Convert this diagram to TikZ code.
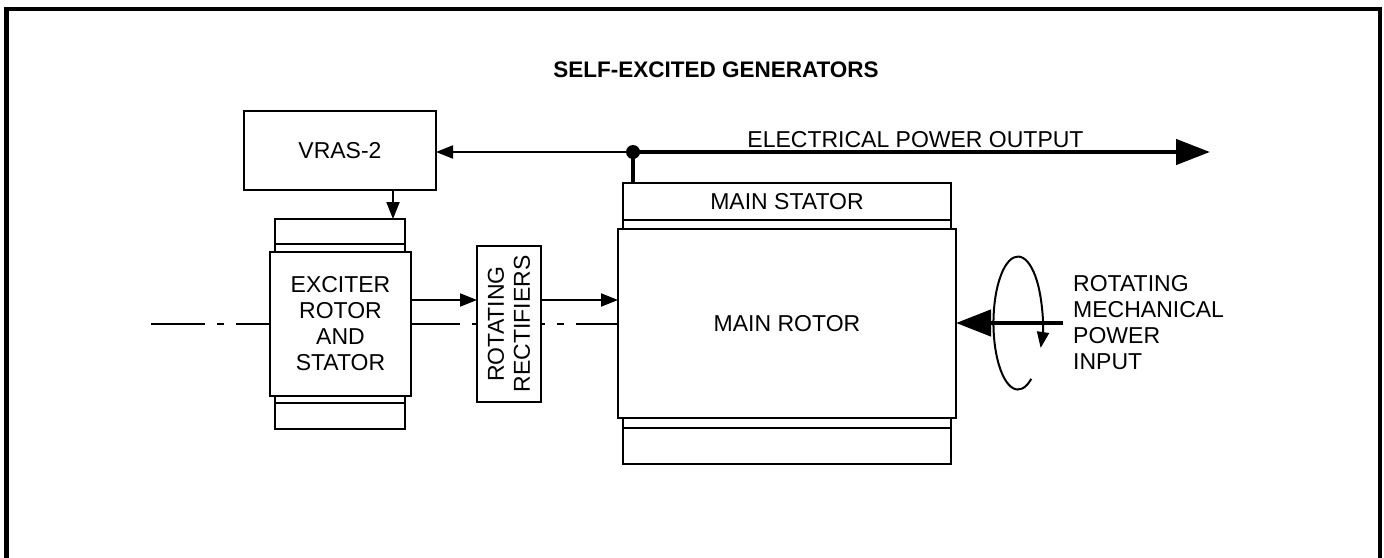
\documentclass[tikz,border=0pt]{standalone}
\usepackage{fontspec}
\setmainfont{Liberation Sans}
\usetikzlibrary{arrows.meta}
\begin{document}
\begin{tikzpicture}[x=1pt,y=-1pt, line join=miter,
  box/.style={draw, line width=2.4pt, fill=white, inner sep=0pt, outer sep=0pt,
    font=\fontsize{23}{26}\selectfont, align=center},
  conn/.style={line width=2pt},
  sarr/.style={conn, -{Triangle[length=17pt,width=13pt]}},
  power/.style={line width=4.5pt},
  lbl/.style={font=\fontsize{23}{26}\selectfont, inner sep=0pt}]
\useasboundingbox (0,0) rectangle (1384,557);
\fill[white] (0,0) rectangle (1384,557);
% frame
\draw[line width=4.5pt] (6.5,562) -- (6.5,9) -- (1380,9) -- (1380,562);
% title
\node[font=\bfseries\fontsize{22.5}{26}\selectfont, inner sep=0pt] (title) at (716,70) {SELF-EXCITED GENERATORS};
% shaft
\coordinate (shaftL) at (151,324);
\coordinate (shaftR) at (618,324);
\draw[conn, dash pattern=on 54pt off 12pt on 7pt off 12pt] (shaftL) -- (shaftR);
% VRAS
\node[box, minimum width=192pt, minimum height=79pt] (vras) at (340,150.5) {VRAS-2};
% exciter
\node[box, minimum width=130pt, minimum height=33pt] (exctopband) at (340,235.5) {};
\node[box, minimum width=130pt, minimum height=25pt] (exctop) at (340,231.5) {};
\node[box, minimum width=130pt, minimum height=33pt] (excbotband) at (340,412.5) {};
\node[box, minimum width=130pt, minimum height=26pt] (excbot) at (340,416) {};
\node[box, minimum width=141pt, minimum height=144pt] (exc) at (340.5,324) {EXCITER\\ROTOR\\AND\\STATOR};
% rectifiers
\node[box, minimum width=64pt, minimum height=156pt] (rect) at (509,324) {};
\node[lbl, rotate=90, align=center] (recttext) at (rect.center) {ROTATING\\RECTIFIERS};
% main machine
\node[box, minimum width=328pt, minimum height=46pt] (statorband) at (787,206) {};
\node[box, minimum width=328pt, minimum height=37pt] (stator) at (787,201.5) {MAIN STATOR};
\node[box, minimum width=328pt, minimum height=46pt] (rotbotband) at (787,441) {};
\node[box, minimum width=328pt, minimum height=36pt] (rotbot) at (787,446) {};
\node[box, minimum width=338pt, minimum height=189pt] (rotor) at (787,323.5) {MAIN ROTOR};
% connectors
\coordinate (j) at (633,152);
\coordinate (out) at (1210,152);
\coordinate (a) at (0,300);
\draw[sarr] (j) -- (vras.east |- j);
\draw[sarr] ([xshift=53pt]vras.south) -- ([xshift=53pt]exctop.north);
\draw[sarr] (exc.east |- a) -- (rect.west |- a);
\draw[sarr] (rect.east |- a) -- (rotor.west |- a);
\draw[power] (j) -- (j |- stator.north);
\draw[power, -{Triangle[length=34pt,width=25pt]}] (j) -- (out);
\fill (j) circle (7pt);
\node[lbl, anchor=base] (outlbl) at (915.5,147.3) {ELECTRICAL POWER OUTPUT};
% mechanical input
\coordinate (inp) at (1063,323);
\draw[power, -{Triangle[length=35pt,width=26pt]}] (inp) -- (rotor.east |- inp);
\draw[conn, -{Triangle[length=16pt,width=12pt]}] (1031.3,378.8) arc[start angle=57, end angle=382, x radius=24.5, y radius=66.5];
\node[lbl, anchor=west, align=left] (inlbl) at (1073,322.5) {ROTATING\\MECHANICAL\\POWER\\INPUT};
\end{tikzpicture}
\end{document}
